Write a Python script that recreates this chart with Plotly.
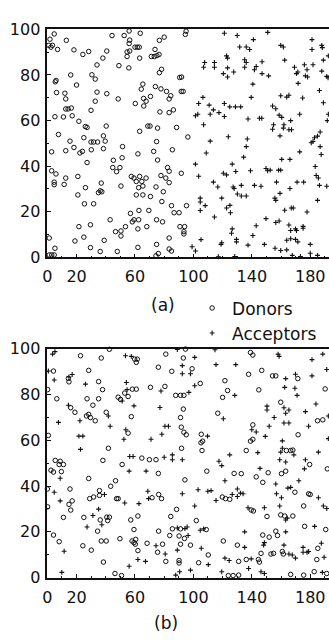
import plotly.graph_objects as go

# ---- (a) segregated lattice: donor and acceptor sites (x, y) ----
a_donor_x = [4.7, 1.8, 1.0, 3.5, 2.5, 7.0, 13.0, 18.2, 24.3, 28.3, 38.0, 40.7, 34.0, 44.3,
             16.0, 5.4, 6.0, 30.5, 32.8, 20.0, 6.3, 12.0, 12.6, 34.0, 40.7, 32.8, 12.6, 14.2,
             16.4, 29.9, 5.2, 11.0, 17.0, 21.6, 26.0, 27.2, 7.6, 15.5, 25.0, 29.9, 31.7, 34.4,
             38.4, 39.6, 40.3,
             2.9, 12.6, 18.2, 22.3, 24.0, 30.1, 38.4, 27.2, 44.8, 2.9, 5.9, 4.7, 4.7, 11.5,
             12.6, 20.9, 26.1, 36.9, 35.0, 37.3, 36.2, 20.9, 25.4, 31.7, 43.0, 21.6, 29.5, 1.3,
             25.0, 18.9, 38.9, 5.2, 29.5, 36.2, 1.3, 3.0, 4.7,
             52.6, 56.0, 56.4, 63.6, 56.0, 60.0, 61.6, 62.9, 54.6, 56.4, 54.6, 63.2, 73.7, 71.2,
             73.2, 75.0, 76.5, 76.7, 80.0, 49.0, 55.8, 78.2, 76.7, 90.6, 91.9, 48.5, 65.4, 64.3,
             74.0, 77.8, 81.6, 91.7, 93.0, 70.6, 65.9, 67.6, 60.2, 66.0, 84.5, 83.4, 77.1, 83.4,
             86.3, 68.8, 70.3, 63.2, 75.5, 88.5, 96.2, 74.8, 95.0, 94.5,
             51.5, 62.0, 72.8, 85.6, 45.2, 51.2, 49.7, 47.4, 75.5, 82.3, 83.4, 91.7, 57.5, 59.3,
             63.2, 67.6, 64.7, 60.9, 62.5, 65.4, 77.8, 81.1, 83.4, 50.4, 74.4, 79.4, 60.9, 65.4,
             70.6, 78.4, 85.0, 86.8, 90.2, 95.3, 56.9, 58.2, 59.3, 62.5, 62.7, 69.5, 74.8, 78.9,
             62.0, 68.1, 46.7, 50.4, 50.4, 53.5, 90.8, 94.0, 93.5, 93.5, 83.4, 62.0, 83.4, 85.0,
             74.8, 76.0, 74.4, 47.9]
a_donor_y = [98.0, 95.7, 93.0, 93.0, 92.2, 91.2, 95.2, 91.0, 89.0, 90.3, 87.4, 90.5, 84.4, 97.3,
             80.0, 77.0, 77.6, 80.1, 78.2, 75.6, 72.3, 72.0, 69.5, 72.5, 71.8, 68.5, 65.1, 65.1,
             65.5, 64.5, 61.7, 61.6, 62.1, 59.7, 57.4, 57.0, 53.9, 51.0, 52.5, 50.6, 50.6, 50.6,
             53.3, 51.0, 57.6,
             46.3, 46.8, 48.2, 45.8, 46.5, 47.2, 47.7, 41.6, 39.4, 38.0, 36.6, 33.0, 31.9, 32.0,
             34.8, 35.5, 30.6, 32.6, 28.4, 28.8, 29.2, 27.4, 23.5, 23.5, 16.5, 13.5, 14.3, 8.5,
             8.9, 7.2, 7.5, 4.0, 4.3, 2.6, 1.1, 1.1, 1.1,
             97.3, 99.3, 95.3, 98.3, 93.8, 92.2, 92.2, 92.2, 90.1, 90.5, 88.1, 87.4, 91.2, 88.1,
             88.1, 88.5, 89.0, 95.2, 96.6, 84.1, 83.1, 82.5, 81.0, 78.9, 79.1, 69.5, 76.0, 73.8,
             74.9, 73.9, 72.8, 72.8, 72.8, 70.6, 69.7, 68.5, 67.5, 66.4, 70.9, 69.5, 63.8, 63.5,
             64.7, 57.6, 57.6, 55.3, 56.7, 57.0, 52.8, 50.8, 99.2, 97.8,
             48.6, 45.4, 46.5, 47.2, 42.6, 43.7, 39.4, 37.6, 42.7, 39.4, 37.8, 36.9, 35.5, 34.8,
             35.5, 34.8, 33.3, 33.3, 30.6, 31.3, 35.9, 34.8, 32.8, 31.3, 30.9, 28.8, 27.4, 27.4,
             26.7, 24.5, 22.7, 19.6, 19.6, 22.7, 19.3, 15.6, 16.5, 16.5, 20.6, 20.6, 16.5, 15.6,
             12.5, 13.5, 11.3, 11.6, 9.4, 13.5, 13.5, 13.5, 11.3, 10.3, 8.5, 4.4, 3.7, 2.8,
             5.7, 1.7, 0.7, 2.6]

a_acceptor_x = [107.7, 107.0, 106.5, 103.6, 110.8, 103.0, 101.4, 111.5, 107.0, 111.5,
                121.2, 130.0, 150.9, 141.1, 131.7, 136.2, 138.5, 159.8, 161.6, 181.2, 181.2,
                187.9, 188.3, 192.4, 122.7, 123.4, 135.1, 136.2, 147.0, 162.5, 189.0, 114.4,
                114.4, 123.4, 135.1, 141.8, 143.0, 169.2, 176.0, 177.8, 181.9, 187.9, 120.5,
                123.4, 127.6, 147.0, 151.5, 170.6, 171.5, 176.7, 178.2, 191.3, 192.2, 140.7,
                171.7, 186.3, 139.6, 159.8, 163.9, 165.4, 174.8, 189.0, 121.2, 113.7, 117.5,
                124.9, 128.8, 132.4, 121.2, 137.4, 145.2, 146.8, 154.2, 156.4, 158.7, 160.5,
                172.8, 166.6, 154.9, 154.2, 162.0, 161.6, 165.4, 167.2, 186.8, 185.0, 182.9,
                192.4, 191.7, 123.9, 136.9, 159.3, 180.7, 181.9,
                136.2, 186.8, 187.5, 134.4, 172.8, 160.5, 166.1, 126.6, 120.5, 122.7, 129.0,
                139.1, 149.7, 150.8, 152.6, 158.3, 159.8, 183.4, 184.1, 185.6, 113.7, 116.7,
                127.2, 127.9, 132.8, 141.8, 146.3, 156.9, 166.1, 171.0, 175.5, 186.3, 191.3,
                130.1, 132.8, 136.2, 159.3, 119.4, 155.8, 156.4, 185.0, 122.7, 125.0, 125.4,
                162.5, 167.0, 168.4, 177.8, 114.4, 149.7, 156.4, 158.7, 143.0, 165.4, 166.6,
                169.9, 170.6, 175.1, 175.1, 126.6, 126.1, 140.7, 119.4, 118.9, 129.5, 129.5,
                163.9, 166.6, 169.9, 171.5, 180.0, 148.6, 137.4, 155.9, 159.8, 163.9, 167.7,
                173.3, 180.0, 185.0, 117.1, 128.3,
                108.8, 101.4, 103.6, 104.7, 104.7, 108.1, 104.7, 105.2, 99.1, 101.4]
a_acceptor_y = [85.5, 83.4, 70.2, 67.5, 66.8, 62.8, 62.1, 62.8, 58.2, 51.0,
                98.3, 97.3, 98.7, 95.5, 92.3, 92.3, 91.2, 93.0, 92.3, 95.5, 91.2,
                93.0, 92.0, 88.4, 88.4, 87.4, 86.7, 85.5, 85.8, 86.5, 86.5, 85.5,
                83.4, 83.1, 83.4, 82.3, 83.7, 83.4, 84.5, 82.3, 84.5, 81.7, 80.6,
                79.1, 81.3, 80.6, 79.6, 80.6, 81.3, 79.6, 79.1, 79.4, 78.8, 76.0,
                76.3, 73.2, 70.2, 70.9, 70.3, 71.1, 69.9, 67.8, 67.5, 64.7, 63.5,
                66.0, 66.0, 66.0, 61.8, 60.7, 61.0, 61.0, 66.4, 65.2, 62.4, 61.4,
                62.8, 60.0, 58.2, 56.2, 58.2, 56.7, 56.0, 56.0, 55.0, 53.2, 52.5,
                62.8, 60.0, 52.9, 51.9, 53.3, 50.3, 50.8,
                48.6, 48.6, 45.1, 44.0, 46.3, 43.0, 43.0, 40.9, 36.9, 36.2, 37.7,
                38.0, 39.0, 38.0, 38.3, 38.3, 38.3, 39.9, 35.9, 34.8, 33.0, 30.9,
                30.9, 30.2, 31.6, 31.6, 31.2, 33.0, 30.2, 33.0, 33.0, 31.6, 31.2,
                27.8, 26.9, 26.9, 28.1, 26.0, 26.0, 25.0, 25.0, 21.7, 22.8, 19.6,
                20.7, 21.7, 21.7, 19.9, 17.7, 17.0, 15.3, 16.0, 13.9, 14.2, 11.8,
                12.5, 11.8, 13.6, 12.8, 12.5, 10.6, 9.6, 6.4, 5.7, 7.9, 6.8,
                7.5, 8.2, 7.9, 6.8, 5.7, 5.7, 5.4, 4.0, 3.0, 3.3, 0.9,
                0.4, 1.8, 0.9, 0.3, 0.4,
                45.8, 40.9, 35.6, 26.0, 24.3, 22.7, 20.6, 7.8, 4.7, 2.8]

# ---- (b) random lattice: donor and acceptor sites (x, y) ----
b_donor_x = [22.7, 36.9, 42.5, 59.8, 61.6, 60.9, 76.0, 81.1, 4.2, 28.3, 14.4, 14.8, 35.1, 37.8,
             58.2, 60.9, 70.6, 80.5, 0.2, 6.5, 27.2, 35.1, 31.2, 48.5, 50.1, 53.0, 55.3, 16.0,
             18.9, 26.8, 28.3, 29.5, 32.8, 40.3, 57.5, 55.3, 0.7, 41.8, 38.0, 64.7, 69.9, 74.4,
             5.4, 8.8, 8.1, 11.0, 51.2, 2.5, 4.2, 9.6, 76.0, 28.3, 46.7,
             94.6, 93.1, 139.1, 140.7, 85.2, 99.1, 137.8, 146.8, 154.2, 156.4, 171.5, 104.7,
             121.6, 123.4, 120.0, 144.8, 190.2, 87.9, 91.2, 93.5, 159.8, 93.1, 91.2, 116.7,
             185.0, 188.6, 91.7, 93.5, 95.1, 140.7, 105.4, 106.3, 105.2, 140.7, 139.1, 171.7,
             91.9, 105.9, 136.2, 163.7, 166.6, 168.1, 179.6, 191.7, 109.2, 127.9, 132.8, 143.0,
             151.2, 160.3, 163.2, 94.2, 147.5,
             0.0, 15.5, 35.7, 35.7, 31.7, 29.0, 43.4, 47.4, 48.5, 71.7, 76.2, 78.2, 14.8, 17.0,
             16.0, 0.2, 11.0, 25.0, 36.2, 40.7, 42.5, 41.3, 57.1, 62.0, 59.3, 4.2, 8.1, 34.4,
             36.9, 40.3, 49.7, 58.0, 59.3, 60.5, 60.2, 68.3, 76.2, 78.9, 24.3, 30.1, 62.0, 75.5,
             81.1, 38.4, 46.3, 50.8,
             119.8, 122.0, 124.9, 169.5, 178.9, 180.0, 88.5, 84.5, 102.0, 139.6, 141.1, 150.4,
             159.8, 162.5, 168.1, 175.5, 176.2, 190.6, 85.6, 91.2, 108.8, 83.8, 90.2, 93.9,
             91.2, 98.0, 120.5, 130.1, 147.5, 151.9, 157.6, 156.4, 185.2, 110.2, 90.2, 90.2,
             103.6, 131.0, 136.2, 144.5, 145.2, 146.3, 153.1, 154.9, 160.9, 161.6, 184.5, 123.9,
             127.2, 131.0, 166.6, 175.5, 182.7, 191.3]
b_donor_y = [96.9, 95.9, 99.7, 95.4, 95.4, 94.0, 91.9, 97.6, 90.2, 90.5, 87.0, 85.5, 85.6, 82.1,
             82.3, 82.3, 83.1, 83.5, 82.1, 78.1, 78.1, 78.1, 75.3, 78.8, 77.8, 80.6, 79.1, 74.2,
             72.2, 70.6, 71.3, 69.9, 68.5, 72.2, 70.3, 63.1, 62.1, 56.5, 51.2, 52.2, 51.5, 51.5,
             51.2, 50.8, 49.4, 49.4, 49.4, 46.9, 46.1, 46.3, 45.5, 43.3, 42.3,
             99.8, 95.9, 98.3, 97.2, 90.1, 91.2, 88.8, 90.5, 88.1, 88.1, 86.9, 84.8,
             86.0, 81.7, 78.7, 82.0, 82.4, 79.6, 79.6, 79.6, 76.6, 73.6, 69.9, 71.8,
             68.5, 68.9, 65.7, 63.5, 62.4, 66.7, 62.6, 59.6, 58.9, 60.4, 59.6, 62.4,
             56.5, 55.5, 55.5, 55.5, 55.5, 55.7, 49.4, 47.5, 46.5, 45.5, 45.4, 44.0,
             45.8, 45.4, 46.5, 42.7, 41.6,
             38.7, 38.7, 38.0, 35.9, 35.2, 34.5, 39.9, 34.5, 34.5, 34.9, 36.3, 34.5, 32.0, 33.5,
             29.5, 30.9, 26.3, 26.3, 25.2, 26.4, 26.4, 24.9, 25.2, 26.9, 21.0, 18.6, 15.7, 20.3,
             16.0, 16.0, 17.0, 16.0, 15.3, 16.7, 14.6, 15.0, 20.3, 14.6, 13.9, 12.0, 11.8, 11.1,
             7.1, 6.8, 1.8, 0.9,
             35.2, 34.5, 34.2, 37.3, 36.6, 36.3, 29.8, 26.7, 24.9, 29.5, 29.1, 26.7,
             27.4, 26.9, 26.9, 31.3, 22.4, 21.0, 21.3, 21.3, 21.0, 18.4, 18.2, 17.1,
             14.6, 14.2, 16.0, 14.2, 18.6, 17.7, 18.4, 20.3, 12.8, 9.9, 7.5, 6.4,
             6.5, 7.1, 7.9, 7.9, 6.8, 10.6, 10.3, 10.6, 11.4, 10.3, 7.9, 0.9,
             0.9, 1.1, 1.4, 1.1, 2.6, 1.8]

b_acceptor_x = [5.2, 3.6, 53.5, 57.5, 0.7, 17.0, 14.8, 4.7, 26.1, 54.1, 54.6, 77.8, 51.2, 59.3,
                77.1, 14.4, 22.3, 41.8, 7.6, 43.0, 80.5, 53.7, 21.6, 24.3, 52.4, 71.0, 78.4,
                22.7, 56.4, 58.7, 80.0, 56.0, 67.6, 8.8,
                89.0, 114.8, 100.9, 158.0, 158.7, 181.2, 188.6, 92.4, 92.4, 98.0, 115.5, 129.0,
                163.2, 169.9, 181.2, 191.3, 100.9, 128.3, 162.5, 169.5, 171.0, 96.9, 150.4,
                150.4, 162.0, 165.4, 163.2, 176.7, 183.9, 120.5, 155.3, 162.0, 165.4, 192.4,
                82.9, 140.0, 143.0, 151.9, 178.9, 109.7, 149.2, 192.4, 160.9, 144.1, 124.9,
                160.9, 159.8, 168.8, 185.6, 85.6, 85.6, 92.4, 117.5, 119.4, 159.1, 163.2, 176.7,
                176.0, 145.6, 121.6, 172.2,
                4.7, 39.1, 53.0, 62.7, 68.8, 69.3, 8.8, 35.1, 31.2, 37.3, 27.2, 74.4, 11.5, 80.7,
                62.0, 67.2, 56.0, 9.9,
                156.4, 92.4, 103.2, 109.9, 112.1, 115.5, 126.6, 130.1, 132.2, 134.0, 130.1, 156.9,
                164.7, 166.6, 160.3, 185.6, 100.9, 137.4, 148.6, 159.1, 163.2, 164.3, 189.0,
                191.3, 183.0, 89.0, 94.2, 95.7, 104.7, 107.0, 96.4, 89.0, 135.1, 135.1, 148.6,
                148.1, 163.2, 162.0, 187.6, 175.1, 177.8, 175.1, 178.9, 105.4, 110.2, 98.0,
                121.6, 124.5, 139.6, 137.8, 165.4, 167.7, 169.9, 189.5, 119.4, 146.3, 148.6,
                188.3, 87.9, 90.6]
b_acceptor_y = [98.7, 97.6, 96.9, 96.6, 90.2, 88.7, 87.6, 86.3, 84.5, 85.2, 82.1, 81.5, 77.1, 75.0,
                74.3, 75.3, 68.5, 70.6, 67.8, 66.1, 66.1, 64.6, 61.8, 61.8, 60.4, 60.4, 62.6,
                56.0, 52.9, 52.9, 52.6, 46.5, 46.5, 43.4,
                99.6, 99.5, 96.2, 97.6, 96.6, 95.2, 97.6, 92.6, 89.0, 89.0, 93.0, 93.0,
                86.9, 88.8, 88.1, 90.9, 83.8, 79.6, 83.1, 82.7, 79.6, 80.9, 74.9,
                73.2, 74.2, 73.2, 71.8, 72.5, 75.8, 69.4, 69.9, 67.5, 67.5, 70.6,
                66.1, 64.6, 63.6, 66.1, 66.1, 61.8, 61.7, 60.7, 59.7, 54.6, 53.6,
                56.5, 54.8, 53.6, 54.8, 53.6, 51.5, 51.5, 50.8, 48.9, 51.5, 50.5, 51.5,
                47.5, 47.7, 42.3, 42.3,
                37.3, 36.3, 32.6, 32.3, 37.7, 34.5, 33.5, 29.9, 27.1, 23.1, 22.1, 13.9, 11.5, 10.3,
                7.9, 7.1, 5.0, 2.3,
                40.9, 36.6, 38.4, 37.7, 38.0, 33.7, 36.3, 35.4, 36.9, 36.6, 38.7, 36.6,
                39.1, 39.4, 34.9, 34.9, 31.3, 30.5, 30.5, 31.3, 25.2, 26.0, 31.3,
                30.2, 22.4, 21.7, 21.4, 22.1, 20.7, 21.3, 18.4, 12.0, 20.0, 13.2, 15.3,
                14.2, 20.0, 14.2, 15.0, 13.2, 11.1, 11.1, 11.4, 12.8, 5.7, 3.3,
                8.5, 7.5, 8.2, 4.0, 10.3, 9.9, 8.5, 8.9, 2.6, 2.6, 1.8,
                2.3, 1.1, 2.6]

x_tick_vals = [0, 20, 60, 100, 140, 180]
y_tick_vals = [0, 20, 40, 60, 80, 100]

FONT = "DejaVu Sans"
INK = "#111111"

donor_marker = dict(symbol="circle-open", size=4.5, color=INK, line=dict(width=1, color=INK))
acceptor_marker = dict(symbol="cross-thin-open", size=3.5, color=INK, line=dict(width=1.1, color=INK))

fig = go.Figure()
fig.add_trace(go.Scatter(x=a_donor_x, y=a_donor_y, mode="markers", name="Donors",
                         marker=donor_marker, xaxis="x", yaxis="y", cliponaxis=False))
fig.add_trace(go.Scatter(x=a_acceptor_x, y=a_acceptor_y, mode="markers", name="Acceptors",
                         marker=acceptor_marker, xaxis="x", yaxis="y", cliponaxis=False))
fig.add_trace(go.Scatter(x=b_donor_x, y=b_donor_y, mode="markers", name="Donors",
                         marker=donor_marker, xaxis="x2", yaxis="y2", cliponaxis=False,
                         showlegend=False))
fig.add_trace(go.Scatter(x=b_acceptor_x, y=b_acceptor_y, mode="markers", name="Acceptors",
                         marker=acceptor_marker, xaxis="x2", yaxis="y2", cliponaxis=False,
                         showlegend=False))

W, H = 329, 641
x_dom = [43 / W, 1.0]
x_max = (W - 43) / 1.483


def xaxis(anchor):
    return dict(domain=x_dom, range=[0, x_max], anchor=anchor,
                tickvals=x_tick_vals, ticks="inside", ticklen=4, tickwidth=1,
                tickcolor=INK, minor=dict(dtick=10, ticks="inside", ticklen=2, tickcolor=INK),
                showline=True, linecolor=INK, linewidth=1.5, mirror=True,
                showgrid=False, zeroline=False, ticklabelstandoff=4,
                tickfont=dict(family=FONT, size=16, color=INK))


def yaxis(anchor, dom):
    return dict(domain=dom, range=[0, 100], anchor=anchor,
                tickvals=y_tick_vals, ticks="inside", ticklen=4, tickwidth=1,
                tickcolor=INK, minor=dict(dtick=10, ticks="inside", ticklen=2, tickcolor=INK),
                showline=True, linecolor=INK, linewidth=1.5, mirror=False,
                showgrid=False, zeroline=False, ticklabelstandoff=2,
                tickfont=dict(family=FONT, size=16, color=INK))


fig.update_layout(
    width=W, height=H,
    margin=dict(l=0, r=0, t=0, b=0),
    paper_bgcolor="white", plot_bgcolor="white",
    font=dict(family=FONT, size=16, color=INK),
    xaxis=xaxis("y"),
    yaxis=yaxis("x", [1 - 256 / H, 1 - 21 / H]),
    xaxis2=xaxis("y2"),
    yaxis2=yaxis("x2", [1 - 586 / H, 1 - 350 / H]),
    legend=dict(x=190 / W, y=1 - 290 / H, xanchor="left", yanchor="top",
                bgcolor="rgba(0,0,0,0)", font=dict(family=FONT, size=17, color=INK),
                tracegroupgap=0, itemwidth=30),
    annotations=[
        dict(text="(a)", x=160 / W, y=1 - 305 / H, xref="paper", yref="paper",
             xanchor="center", yanchor="middle", showarrow=False,
             font=dict(family=FONT, size=17, color=INK)),
        dict(text="(b)", x=163 / W, y=1 - 633 / H, xref="paper", yref="paper",
             xanchor="center", yanchor="middle", showarrow=False,
             font=dict(family=FONT, size=17, color=INK)),
    ],
)

fig.write_html("out.html")
